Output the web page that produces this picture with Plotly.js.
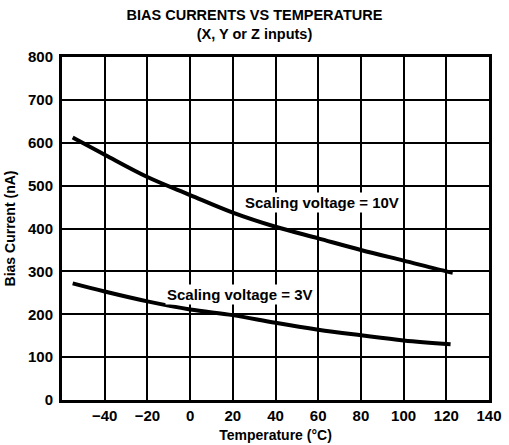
<!DOCTYPE html>
<html>
<head>
<meta charset="utf-8">
<script src="https://cdn.plot.ly/plotly-3.0.1.min.js"></script>
<style>html,body{margin:0;padding:0;background:#fff;}#chart{width:509px;height:445px;}</style>
</head>
<body>
<div id="chart"></div>
<script>
// Temperature (°C)
var temp10V = [-55, -40, -20, 0, 20, 40, 60, 80, 100, 120, 123];
var bias10V = [612, 572, 520, 478, 437, 404, 377, 350, 325, 300, 297];
var temp3V = [-55, -40, -20, 0, 20, 40, 60, 80, 100, 122];
var bias3V = [272, 253, 230, 211, 198, 180, 164, 151, 139, 130];
var xTicks = [-40, -20, 0, 20, 40, 60, 80, 100, 120, 140];
var yTicks = [0, 100, 200, 300, 400, 500, 600, 700, 800];

var FONT = 'Liberation Sans, Arial, sans-serif';

var traces = [
  {x: temp10V, y: bias10V, mode: 'lines', line: {color: '#000', width: 4, shape: 'spline'}, hoverinfo: 'skip'},
  {x: temp3V, y: bias3V, mode: 'lines', line: {color: '#000', width: 4, shape: 'spline'}, hoverinfo: 'skip'}
];

var layout = {
  width: 509, height: 445,
  margin: {l: 62, r: 20, t: 57, b: 45},
  paper_bgcolor: '#fff', plot_bgcolor: '#fff',
  showlegend: false,
  font: {family: FONT, color: '#000', size: 14, weight: 700},
  title: {
    text: 'BIAS CURRENTS VS TEMPERATURE<br>(X, Y or Z inputs)',
    font: {family: FONT, size: 14.5, color: '#000', weight: 700},
    x: 0.5, xanchor: 'center', y: 0.955, yanchor: 'top'
  },
  xaxis: {
    range: [-60, 140],
    tickvals: xTicks,
    ticks: '', showgrid: true, gridcolor: '#000', gridwidth: 2,
    zeroline: false,
    showline: true, linecolor: '#000', linewidth: 3, mirror: true,
    tickfont: {family: FONT, size: 15, color: '#000', weight: 700},
    title: {text: 'Temperature (°C)', font: {family: FONT, size: 14, color: '#000', weight: 700}, standoff: 8}
  },
  yaxis: {
    range: [0, 800],
    tickvals: yTicks,
    ticks: 'outside', ticklen: 3, tickcolor: 'rgba(0,0,0,0)',
    showgrid: true, gridcolor: '#000', gridwidth: 2,
    zeroline: false,
    showline: true, linecolor: '#000', linewidth: 3, mirror: true,
    tickfont: {family: FONT, size: 15, color: '#000', weight: 700},
    title: {text: 'Bias Current (nA)', font: {family: FONT, size: 14, color: '#000', weight: 700}, standoff: 10}
  },
  annotations: [
    {x: 62, y: 460, xref: 'x', yref: 'y', text: 'Scaling voltage = 10V', showarrow: false,
     font: {family: FONT, size: 15, color: '#000', weight: 700}, bgcolor: '#fff'},
    {x: 23, y: 245, xref: 'x', yref: 'y', text: 'Scaling voltage = 3V', showarrow: false,
     font: {family: FONT, size: 15, color: '#000', weight: 700}, bgcolor: '#fff'}
  ]
};

Plotly.newPlot('chart', traces, layout, {displayModeBar: false, staticPlot: true});
</script>
</body>
</html>
